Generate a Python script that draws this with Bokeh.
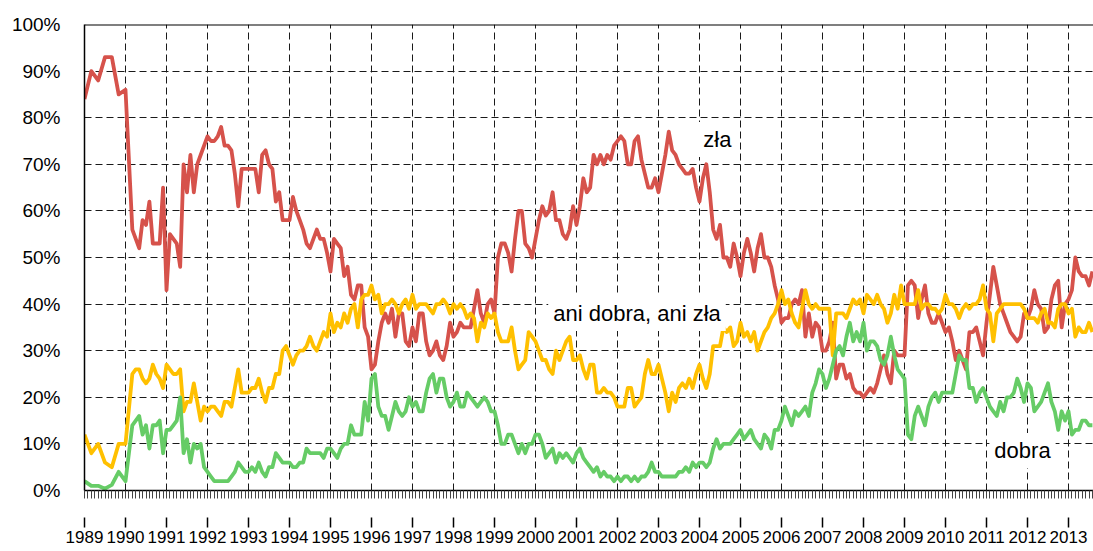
from bokeh.plotting import figure
from bokeh.models import Range1d, FixedTicker, Label, Span, PrintfTickFormatter
from bokeh.embed import file_html
from bokeh.resources import INLINE

# survey months, counted from January 1989 (bi-monthly in 1989, monthly afterwards)
months = [0, 2, 4, 6, 8, 10, 12] + list(range(14, 296))

# "zła" (bad)
zla = [84, 90, 88, 93, 93, 85, 86,
       56, 54, 52, 58, 57, 62, 53, 53, 53, 65, 43, 55, 54, 53, 48,
       70, 64, 72, 64, 70, 72, 74, 76, 75, 75, 76, 78, 74, 74, 73, 68, 61, 69, 69, 69,
       69, 69, 64, 72, 73, 70, 69, 62, 64, 58, 58, 58, 63, 60, 58, 56, 53,
       52, 54, 56, 54, 54, 51, 47, 54, 53, 52, 46, 48, 42, 41, 44, 44, 35, 33,
       26, 27, 32, 36, 38, 36, 39, 33, 38, 38, 32, 31, 35, 32, 38, 38,
       32, 29, 30, 32, 29, 28, 31, 36, 33, 34, 36, 35, 35, 35, 39, 43, 38, 36, 40, 41,
       38, 50, 53, 53, 51, 47, 54, 60, 60, 53, 52, 50, 54, 58, 61, 59, 60, 64, 58, 58,
       55, 54, 56, 61, 57, 61, 67, 64, 65, 72, 70, 72, 70, 72, 71, 74, 75, 76, 75, 70,
       70, 75, 76, 71, 68, 65, 65, 67, 64, 68, 72, 77, 73, 72, 70, 69, 68, 68, 69, 65,
       62, 67, 70, 64, 56, 54, 57, 50, 50, 48, 53, 50, 46, 51, 54, 51, 47, 52, 55, 50,
       50, 48, 44, 41, 36, 37, 37, 40, 41, 40, 43, 33, 38, 33, 36, 35, 30, 30, 32, 36,
       24, 27, 27, 24, 25, 22, 21, 21, 20, 21, 22, 21, 23, 26, 29, 25, 23, 30, 29, 29,
       29, 44, 45, 44, 37, 41, 44, 38, 36, 36, 38, 36, 34, 35, 32, 28, 30, 28, 26, 34,
       34, 35, 32, 29, 36, 42, 48, 44, 40, 38, 36, 34, 33, 32, 33, 38, 37, 39, 43, 40,
       39, 34, 35, 41, 44, 45, 35, 40, 41, 43, 50, 47, 46, 46, 44, 47]

# "ani dobra, ani zła" (neither good nor bad)
ani = [12, 8, 10, 6, 5, 10, 10,
       25, 26, 26, 24, 23, 24, 27, 25, 24, 22, 27, 26, 25, 25, 26,
       17, 19, 19, 23, 19, 15, 18, 17, 18, 18, 17, 16, 19, 19, 18, 22, 26, 21, 21, 21,
       22, 22, 24, 21, 19, 22, 22, 25, 25, 30, 31, 29, 27, 29, 30, 30, 31,
       33, 31, 30, 32, 34, 33, 38, 34, 36, 35, 38, 36, 39, 40, 35, 41, 42, 42,
       44, 41, 42, 38, 40, 40, 41, 40, 38, 40, 41, 39, 42, 39, 40, 40,
       40, 39, 38, 40, 40, 41, 40, 38, 40, 39, 40, 39, 37, 38, 37, 32, 36, 35, 38, 37,
       38, 34, 32, 32, 32, 35, 30, 26, 27, 28, 34, 33, 32, 30, 28, 28, 26, 25, 30, 28,
       30, 32, 33, 28, 28, 29, 26, 24, 27, 27, 21, 21, 22, 21, 21, 20, 18, 18, 18, 22,
       22, 18, 19, 20, 25, 28, 25, 25, 27, 24, 21, 17, 21, 19, 22, 23, 22, 24, 22, 25,
       27, 24, 22, 25, 31, 31, 31, 35, 34, 35, 31, 32, 36, 33, 34, 32, 34, 30, 32, 34,
       35, 37, 38, 40, 43, 40, 41, 38, 36, 35, 39, 43, 40, 39, 40, 39, 39, 39, 39, 29,
       38, 38, 38, 37, 39, 41, 40, 41, 38, 42, 41, 40, 42, 40, 39, 36, 38, 42, 39, 44,
       40, 40, 40, 40, 43, 39, 40, 40, 39, 39, 38, 39, 42, 40, 40, 39, 37, 39, 40, 39,
       40, 40, 41, 44, 39, 38, 32, 38, 39, 40, 40, 40, 40, 40, 40, 39, 37, 37, 37, 36,
       38, 39, 36, 36, 35, 39, 40, 40, 38, 39, 33, 35, 34, 34, 36, 34]

# "dobra" (good)
dobra = [2, 1, 1, 0.4, 1.2, 4, 2,
         14, 15, 16, 12, 14, 9, 14, 14, 15, 8, 13, 13, 14, 15, 20,
         8, 11, 6, 10, 9, 10, 5, 4, 3, 2, 2, 2, 2, 2, 3, 4, 6, 5, 4, 4,
         5, 4, 6, 4, 3, 5, 5, 8, 7, 6, 6, 6, 5, 5, 6, 6, 9,
         8, 8, 8, 8, 7, 9, 9, 8, 7, 9, 10, 10, 14, 12, 12, 12, 19, 15,
         24, 25, 18, 16, 16, 13, 16, 19, 17, 16, 17, 20, 18, 19, 17, 17,
         21, 24, 25, 21, 24, 24, 20, 18, 19, 21, 18, 18, 21, 20, 19, 18, 19, 20, 19, 17,
         17, 14, 10, 10, 12, 12, 10, 8, 10, 8, 10, 10, 12, 12, 10, 7, 8, 9, 6, 8,
         7, 8, 7, 6, 8, 9, 7, 6, 5, 4, 5, 3, 4, 3, 3, 2, 3, 2, 3, 3,
         2, 3, 2, 3, 3, 4, 6, 4, 4, 3, 3, 3, 3, 3, 4, 4, 5, 4, 6, 5,
         6, 6, 5, 6, 9, 11, 9, 10, 10, 10, 11, 12, 13, 11, 12, 13, 11, 10, 9, 12,
         11, 9, 13, 13, 15, 18, 16, 14, 17, 16, 17, 18, 16, 21, 23, 26, 25, 22, 24, 27,
         30, 31, 29, 33, 36, 32, 34, 32, 36, 30, 32, 32, 31, 28, 27, 29, 33, 29, 26, 25,
         24, 12, 11, 16, 18, 16, 14, 18, 20, 21, 19, 21, 21, 21, 21, 25, 29, 28, 28, 22,
         22, 19, 21, 22, 20, 18, 17, 16, 19, 17, 20, 20, 21, 24, 22, 19, 23, 22, 17, 18,
         19, 21, 23, 19, 17, 13, 17, 15, 17, 12, 13, 13, 15, 15, 14, 14]

year_ticks = list(range(1989, 2014))
pct_ticks = list(range(0, 101, 10))

assert len(months) == len(zla) == len(ani) == len(dobra)

x = [1989 + m / 12 for m in months]

FONT = "Liberation Sans"

p = figure(width=1093, height=551, output_backend="svg", toolbar_location=None,
           x_range=Range1d(1989, 1989 + 1009 / 41), y_range=Range1d(0, 100),
           min_border_left=84, min_border_right=0, min_border_top=24, min_border_bottom=61,
           background_fill_color="white", border_fill_color="white")
p.outline_line_color = None

# grid
p.xgrid.ticker = FixedTicker(ticks=year_ticks[1:])
p.ygrid.ticker = FixedTicker(ticks=pct_ticks[1:-1])
for g in (p.xgrid, p.ygrid):
    g.grid_line_color = "#1a1a1a"
    g.grid_line_dash = "7 4"
    g.grid_line_width = 1

# series
p.line(x, zla, line_color="#D6524B", line_width=3.8, line_join="round")
p.line(x, ani, line_color="#FFC000", line_width=3.8, line_join="round")
p.line(x, dobra, line_color="#66CC66", line_width=3.8, line_join="round")

# top border
p.add_layout(Span(location=100, dimension="width", line_color="black", line_width=2))

# x axis
xa = p.xaxis[0]
xa.ticker = FixedTicker(ticks=year_ticks,
                        minor_ticks=[1989 + i / 12 for i in range(0, 12 * 25)])
xa.formatter = PrintfTickFormatter(format="%d")
xa.axis_line_color = "black"
xa.axis_line_width = 1.5
xa.major_tick_in = -27
xa.major_tick_out = 37
xa.major_tick_line_color = "black"
xa.major_tick_line_width = 1.5
xa.minor_tick_in = 0
xa.minor_tick_out = 8
xa.minor_tick_line_color = "#444444"
xa.minor_tick_line_width = 1
xa.major_label_standoff = 3
xa.major_label_text_font = FONT
xa.major_label_text_font_size = "17px"
xa.major_label_text_color = "black"

# y axis
ya = p.yaxis[0]
ya.ticker = FixedTicker(ticks=pct_ticks)
ya.formatter = PrintfTickFormatter(format="%d%%")
ya.axis_line_color = "black"
ya.axis_line_width = 1.5
ya.major_tick_in = 0
ya.major_tick_out = 0
ya.minor_tick_in = 0
ya.minor_tick_out = 0
ya.major_label_standoff = 24
ya.major_label_text_font = FONT
ya.major_label_text_font_size = "19px"
ya.major_label_text_color = "black"

# series labels
for txt, lx, ly in [("zła", 2003.97, 75.3),
                    ("ani dobra, ani zła", 2000.31, 38.0),
                    ("dobra", 2011.07, 8.6)]:
    p.add_layout(Label(x=lx, y=ly, text=txt, text_font=FONT, text_font_size="22px",
                       text_color="black", text_align="left", text_baseline="middle",
                       background_fill_color="white", padding=5))

open("out.html", "w").write(file_html(p, INLINE))
